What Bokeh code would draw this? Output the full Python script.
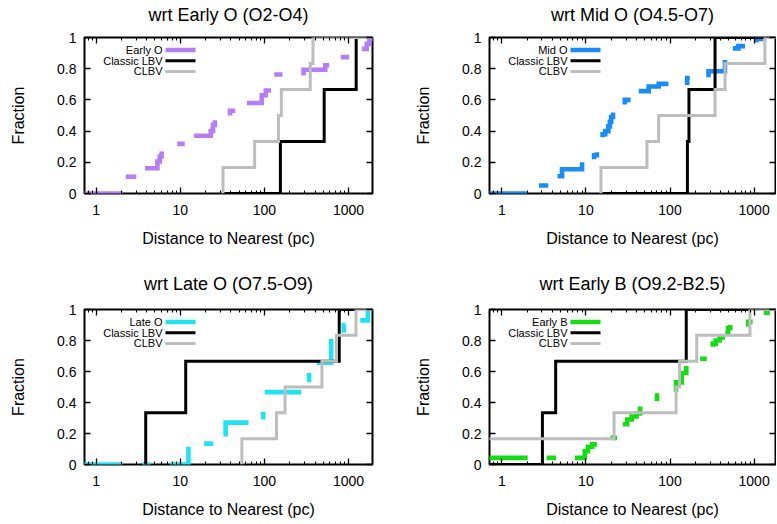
import math
from bokeh.plotting import figure
from bokeh.models import Range1d, FixedTicker, LogAxis, LinearAxis, ColumnDataSource
from bokeh.layouts import column, row
from bokeh.core.properties import value
from bokeh.embed import file_html
from bokeh.resources import INLINE

FONT = "Liberation Sans"

# ---------------- axes / labels ----------------
x_ticks = [1, 10, 100, 1000]
x_tick_labels = ["1", "10", "100", "1000"]
x_minor_ticks = [m * 10 ** e for e in range(-1, 4) for m in range(2, 10)]
y_ticks = [0, 0.2, 0.4, 0.6, 0.8, 1.0]
y_tick_labels = ["0", "0.2", "0.4", "0.6", "0.8", "1"]
x_label = "Distance to Nearest (pc)"
y_label = "Fraction"

titles = ["wrt Early O (O2-O4)", "wrt Mid O (O4.5-O7)",
          "wrt Late O (O7.5-O9)", "wrt Early B (O9.2-B2.5)"]
series_names = ["Early O", "Mid O", "Late O", "Early B"]
series_colors = ["#b67ef4", "#1a8cf5", "#1fe3f2", "#14dd14"]
lbv_name = "Classic LBV"
clbv_name = "CLBV"
lbv_color = "black"
clbv_color = "#bdbdbd"

# ---------------- data: O/B star CDF (visible dashed pieces) ----------------
early_o_pieces = [
    [(0.5, 0), (2.06, 0)],
    [(2.25, 0.107), (3.0, 0.107)],
    [(3.8, 0.162), (5.35, 0.162), (5.35, 0.205), (5.7, 0.205), (5.7, 0.237), (6.0, 0.237), (6.0, 0.27)],
    [(9.2, 0.318), (11.3, 0.318)],
    [(14.6, 0.37), (23, 0.37), (23, 0.40), (24.5, 0.40), (24.5, 0.44), (25.8, 0.44), (25.8, 0.47)],
    [(39, 0.50), (39, 0.53), (45, 0.53)],
    [(62, 0.58), (93, 0.58), (93, 0.63), (104, 0.63), (104, 0.66), (120, 0.66)],
    [(131, 0.763), (164, 0.763)],
    [(292, 0.756), (292, 0.793), (529, 0.793), (529, 0.822), (590, 0.822)],
    [(810, 0.874), (1020, 0.874)],
    [(1440, 0.927), (1650, 0.927), (1650, 0.96), (1760, 0.96), (1760, 0.99), (1950, 0.99)],
]
mid_o_pieces = [
    [(0.5, 0), (2.03, 0)],
    [(2.77, 0.051), (3.57, 0.051)],
    [(4.6, 0.111), (5.2, 0.111), (5.2, 0.155), (9.0, 0.155), (9.0, 0.2)],
    [(12.5, 0.22), (12.5, 0.245), (13.5, 0.245), (13.5, 0.265)],
    [(15.8, 0.36), (15.8, 0.38), (17, 0.38), (17, 0.40), (18.5, 0.40), (18.5, 0.43), (19.3, 0.43),
     (19.3, 0.46), (20, 0.46), (20, 0.49), (21, 0.49), (21, 0.52)],
    [(29, 0.57), (29, 0.60), (34, 0.60)],
    [(42.5, 0.656), (55.8, 0.656), (55.8, 0.686), (73.3, 0.686), (73.3, 0.703), (96, 0.703)],
    [(150, 0.71), (160, 0.71), (160, 0.74), (172, 0.74)],
    [(287, 0.745), (287, 0.784), (450, 0.784), (450, 0.855)],
    [(560, 0.93), (650, 0.93), (650, 0.945), (780, 0.945)],
    [(1070, 0.97), (1070, 0.99), (1290, 0.99)],
]
late_o_pieces = [
    [(0.5, 0), (2.05, 0)],
    [(3.55, 0), (4.45, 0)],
    [(7.5, 0), (12.5, 0), (12.5, 0.115)],
    [(19.2, 0.135), (24.7, 0.135)],
    [(34.6, 0.18), (34.6, 0.27), (65, 0.27)],
    [(97, 0.29), (97, 0.34)],
    [(101, 0.467), (275, 0.467)],
    [(340, 0.53), (340, 0.59)],
    [(420, 0.656), (623, 0.656), (623, 0.81)],
    [(880, 0.85), (880, 0.90), (920, 0.90)],
    [(1380, 0.93), (1700, 0.93), (1700, 1.0)],
]
early_b_pieces = [
    [(0.5, 0.043), (2.03, 0.043)],
    [(3.41, 0.043), (4.41, 0.043)],
    [(7.4, 0.043), (9.7, 0.043), (9.7, 0.086), (10.6, 0.086), (10.6, 0.115), (11.9, 0.115),
     (11.9, 0.13), (13.5, 0.13)],
    [(19.5, 0.172), (23.5, 0.172)],
    [(27.5, 0.26), (31, 0.26), (31, 0.29), (35, 0.29), (35, 0.31), (40, 0.31), (40, 0.33),
     (44, 0.33), (44, 0.36), (47, 0.36)],
    [(70, 0.41), (70, 0.46)],
    [(118, 0.47), (118, 0.53), (138, 0.53), (138, 0.59), (156, 0.59), (156, 0.635)],
    [(228, 0.682), (274, 0.682)],
    [(322, 0.76), (322, 0.78), (350, 0.78), (350, 0.80), (390, 0.80), (390, 0.82), (450, 0.82)],
    [(455, 0.85), (490, 0.85), (490, 0.88), (520, 0.88), (520, 0.90)],
    [(850, 0.89), (850, 0.92), (960, 0.92)],
    [(1300, 0.98), (1540, 0.98)],
]

# ---------------- data: Classic LBV and CLBV step CDFs ----------------
early_o_lbv_x = [32.2, 155, 514, 1234, 3000]
early_o_lbv_y = [0, 1 / 3, 2 / 3, 1, 1]
early_o_clbv_x = [32.2, 32.2, 76.6, 147, 159, 351, 378, 3000]
early_o_clbv_y = [0, 1 / 6, 1 / 3, 1 / 2, 2 / 3, 5 / 6, 1, 1]

mid_o_lbv_x = [15.1, 161, 168, 343, 3000]
mid_o_lbv_y = [0, 1 / 3, 2 / 3, 1, 1]
mid_o_clbv_x = [15.1, 15.1, 53.2, 73.3, 343, 451, 1343, 3000]
mid_o_clbv_y = [0, 1 / 6, 1 / 3, 1 / 2, 2 / 3, 5 / 6, 1, 1]

late_o_lbv_x = [3.88, 3.88, 11.6, 776, 3000]
late_o_lbv_y = [0, 1 / 3, 2 / 3, 1, 1]
late_o_clbv_x = [54, 54, 139, 176, 483, 720, 1228, 3000]
late_o_clbv_y = [0, 1 / 6, 1 / 3, 1 / 2, 2 / 3, 5 / 6, 1, 1]

early_b_lbv_x = [0.5, 3.04, 4.37, 156, 3000]
early_b_lbv_y = [0, 1 / 3, 2 / 3, 1, 1]
early_b_clbv_x = [0.5, 21.6, 118, 130, 208, 892, 3000]
early_b_clbv_y = [1 / 6, 1 / 3, 1 / 2, 2 / 3, 5 / 6, 1, 1]

panels = [
    (early_o_pieces, early_o_lbv_x, early_o_lbv_y, early_o_clbv_x, early_o_clbv_y),
    (mid_o_pieces, mid_o_lbv_x, mid_o_lbv_y, mid_o_clbv_x, mid_o_clbv_y),
    (late_o_pieces, late_o_lbv_x, late_o_lbv_y, late_o_clbv_x, late_o_clbv_y),
    (early_b_pieces, early_b_lbv_x, early_b_lbv_y, early_b_clbv_x, early_b_clbv_y),
]


def style_axis(ax, labels, minor=True):
    ax.axis_line_color = None
    ax.major_tick_in = 6
    ax.major_tick_out = 0
    ax.major_tick_line_color = "black"
    ax.major_tick_line_width = 1.3
    if minor:
        ax.minor_tick_in = 3
        ax.minor_tick_out = 0
        ax.minor_tick_line_color = "black"
        ax.minor_tick_line_width = 1.1
    else:
        ax.minor_tick_line_color = None
    if labels:
        ax.major_label_text_font = FONT
        ax.major_label_text_font_size = "14px"
        ax.major_label_text_color = "black"
    else:
        ax.major_label_text_font_size = "1px"
        ax.major_label_text_color = None
        ax.major_label_standoff = 0
    ax.axis_label_text_font = FONT
    ax.axis_label_text_font_size = "16px"
    ax.axis_label_text_font_style = "normal"
    ax.axis_label_text_color = "black"


def make_panel(i, right_col, bottom_row):
    pieces, lx, ly, cx, cy = panels[i]
    fw = 286 if right_col else 288
    fh = 155 if bottom_row else 156
    xr = Range1d(0.714, 1796) if right_col else Range1d(0.726, 1930)
    p = figure(x_axis_type="log", x_range=xr, y_range=Range1d(0, 1),
               frame_width=fw, frame_height=fh, output_backend="svg",
               toolbar_location=None)
    p.min_border = 0
    p.min_border_left = 77 if right_col else 84
    p.min_border_right = 1 if right_col else 40
    p.min_border_top = 54 if bottom_row else 37
    p.min_border_bottom = 59 if bottom_row else 62
    p.background_fill_color = "white"
    p.border_fill_color = "white"
    p.outline_line_color = "black"
    p.outline_line_width = 2
    p.grid.visible = False

    xa = p.xaxis[0]
    xa.ticker = FixedTicker(ticks=x_ticks, minor_ticks=x_minor_ticks)
    xa.major_label_overrides = {t: s for t, s in zip(x_ticks, x_tick_labels)}
    xa.axis_label = x_label
    xa.major_label_standoff = 11
    xa.axis_label_standoff = 12
    style_axis(xa, True)

    ya = p.yaxis[0]
    ya.ticker = FixedTicker(ticks=y_ticks)
    ya.major_label_overrides = {t: s for t, s in zip(y_ticks, y_tick_labels)}
    ya.axis_label = y_label
    ya.major_label_standoff = 8
    ya.axis_label_standoff = 27
    style_axis(ya, True, minor=False)

    # mirrored top axis: inward ticks, carries the panel title as its label
    top = LogAxis(ticker=FixedTicker(ticks=x_ticks, minor_ticks=x_minor_ticks))
    style_axis(top, False)
    top.axis_label = titles[i]
    top.axis_label_text_font_size = "18px"
    top.axis_label_standoff = 16 if bottom_row else 13
    p.add_layout(top, "above")
    rgt = LinearAxis(ticker=FixedTicker(ticks=y_ticks))
    style_axis(rgt, False, minor=False)
    p.add_layout(rgt, "right")

    lo, hi = math.log10(xr.start), math.log10(xr.end)

    def px2x(px):
        return 10 ** (lo + px / fw * (hi - lo))

    # colored star series (bottom layer)
    xs = [[pt[0] for pt in pc] for pc in pieces]
    ys = [[pt[1] for pt in pc] for pc in pieces]
    p.multi_line(xs, ys, line_color=series_colors[i], line_width=4.6,
                 line_join="miter", line_cap="butt")
    # classic LBV, then CLBV
    p.step(lx, ly, mode="after", line_color=lbv_color, line_width=3, line_join="miter")
    p.step(cx, cy, mode="after", line_color=clbv_color, line_width=3, line_join="miter")

    # legend (text right-aligned, sample line to the right)
    rows_px = [12.5, 23.2, 33.9]
    ly_pos = [1 - r / fh for r in rows_px]
    names = [series_names[i], lbv_name, clbv_name]
    cols = [series_colors[i], lbv_color, clbv_color]
    widths = [4.6, 3, 3]
    p.text(x=[px2x(78)] * 3, y=ly_pos, text=names, text_align="right",
           text_baseline="middle", text_font=value(FONT), text_font_size="11px",
           text_color="black")
    src = ColumnDataSource(dict(x0=[px2x(81)] * 3, x1=[px2x(111)] * 3, y=ly_pos,
                                c=cols, w=widths))
    p.segment(x0="x0", y0="y", x1="x1", y1="y", line_color="c", line_width="w",
              source=src)
    return p


p1 = make_panel(0, False, False)
p2 = make_panel(1, True, False)
p3 = make_panel(2, False, True)
p4 = make_panel(3, True, True)

layout = column(row(p1, p2), row(p3, p4))
open("out.html", "w").write(file_html(layout, INLINE))
